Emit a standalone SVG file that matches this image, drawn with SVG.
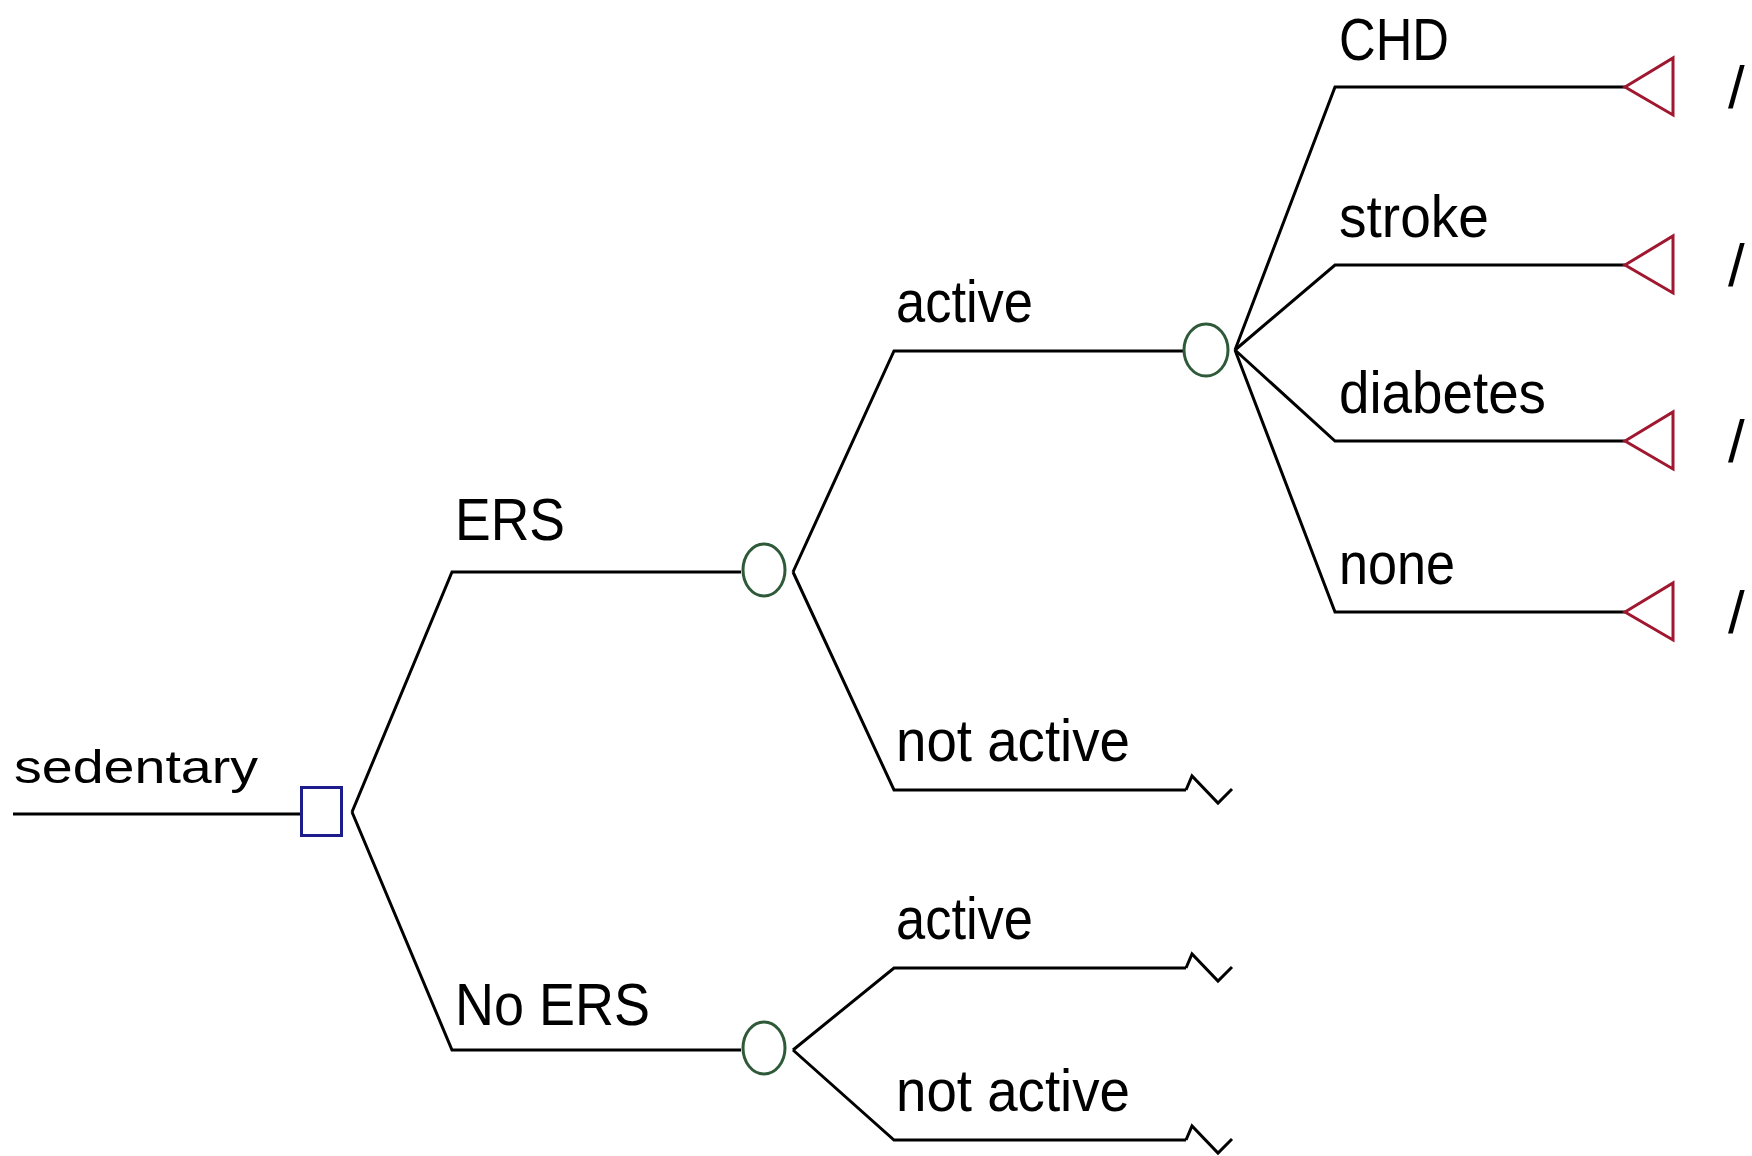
<svg xmlns="http://www.w3.org/2000/svg" width="1752" height="1156" viewBox="0 0 1752 1156">
<style>
.ln{fill:none;stroke:#000;stroke-width:3;stroke-linejoin:miter}
.big{font-family:"Liberation Sans",Arial,sans-serif;font-size:60px;fill:#000}
.sm{font-family:"Liberation Sans",Arial,sans-serif;font-size:47px;fill:#000}
.dec{fill:none;stroke:#1c1c8c;stroke-width:3}
.chance{fill:none;stroke:#2f5a3a;stroke-width:3}
.term{fill:none;stroke:#a01830;stroke-width:3;stroke-linejoin:miter}
</style>
<defs>
<path id="tri" d="M0,0 L48,-29 L48,28 Z"/>
<path id="zig" d="M0,0 L6,-14 L32,13 L46,-1"/>
</defs>
<rect width="1752" height="1156" fill="#fff"/>
<g id="connectors">
<path class="ln" d="M13,814 H300"/>
<path class="ln" d="M352,812 L452,572 H741"/>
<path class="ln" d="M352,812 L452,1050 H741"/>
<path class="ln" d="M793,572 L894,351 H1183"/>
<path class="ln" d="M793,572 L894,790 H1186"/>
<path class="ln" d="M793,1050 L894,968 H1186"/>
<path class="ln" d="M793,1050 L894,1140 H1186"/>
<path class="ln" d="M1235,350 L1335,87 H1625"/>
<path class="ln" d="M1235,350 L1335,265 H1625"/>
<path class="ln" d="M1235,350 L1335,441 H1625"/>
<path class="ln" d="M1235,350 L1335,612 H1625"/>
<use href="#zig" class="ln" x="1186" y="790"/>
<use href="#zig" class="ln" x="1186" y="968"/>
<use href="#zig" class="ln" x="1186" y="1140"/>
</g>
<g id="n-sedentary">
<text class="sm" x="14" y="783" textLength="244" lengthAdjust="spacingAndGlyphs">sedentary</text>
<rect class="dec" x="301.5" y="787.5" width="40" height="48"/>
</g>
<g id="n-ers">
<text class="big" x="455" y="540" textLength="110" lengthAdjust="spacingAndGlyphs">ERS</text>
<ellipse class="chance" cx="764" cy="570" rx="21" ry="26"/>
</g>
<g id="n-noers">
<text class="big" x="455" y="1025" textLength="195" lengthAdjust="spacingAndGlyphs">No ERS</text>
<ellipse class="chance" cx="764" cy="1048" rx="21" ry="26"/>
</g>
<g id="n-active1">
<text class="big" x="896" y="322" textLength="137" lengthAdjust="spacingAndGlyphs">active</text>
<ellipse class="chance" cx="1206" cy="350" rx="22" ry="26"/>
</g>
<g id="n-notactive1">
<text class="big" x="896" y="761" textLength="234" lengthAdjust="spacingAndGlyphs">not active</text>
</g>
<g id="n-active2">
<text class="big" x="896" y="939" textLength="137" lengthAdjust="spacingAndGlyphs">active</text>
</g>
<g id="n-notactive2">
<text class="big" x="896" y="1111" textLength="234" lengthAdjust="spacingAndGlyphs">not active</text>
</g>
<g id="n-chd">
<text class="big" x="1339" y="60" textLength="110" lengthAdjust="spacingAndGlyphs">CHD</text>
<use href="#tri" class="term" x="1625" y="87"/>
<text class="big" x="1728" y="108">/</text>
</g>
<g id="n-stroke">
<text class="big" x="1339" y="237" textLength="150" lengthAdjust="spacingAndGlyphs">stroke</text>
<use href="#tri" class="term" x="1625" y="265"/>
<text class="big" x="1728" y="286">/</text>
</g>
<g id="n-diabetes">
<text class="big" x="1339" y="413" textLength="207" lengthAdjust="spacingAndGlyphs">diabetes</text>
<use href="#tri" class="term" x="1625" y="441"/>
<text class="big" x="1728" y="462">/</text>
</g>
<g id="n-none">
<text class="big" x="1339" y="584" textLength="116" lengthAdjust="spacingAndGlyphs">none</text>
<use href="#tri" class="term" x="1625" y="612"/>
<text class="big" x="1728" y="633">/</text>
</g>
</svg>
